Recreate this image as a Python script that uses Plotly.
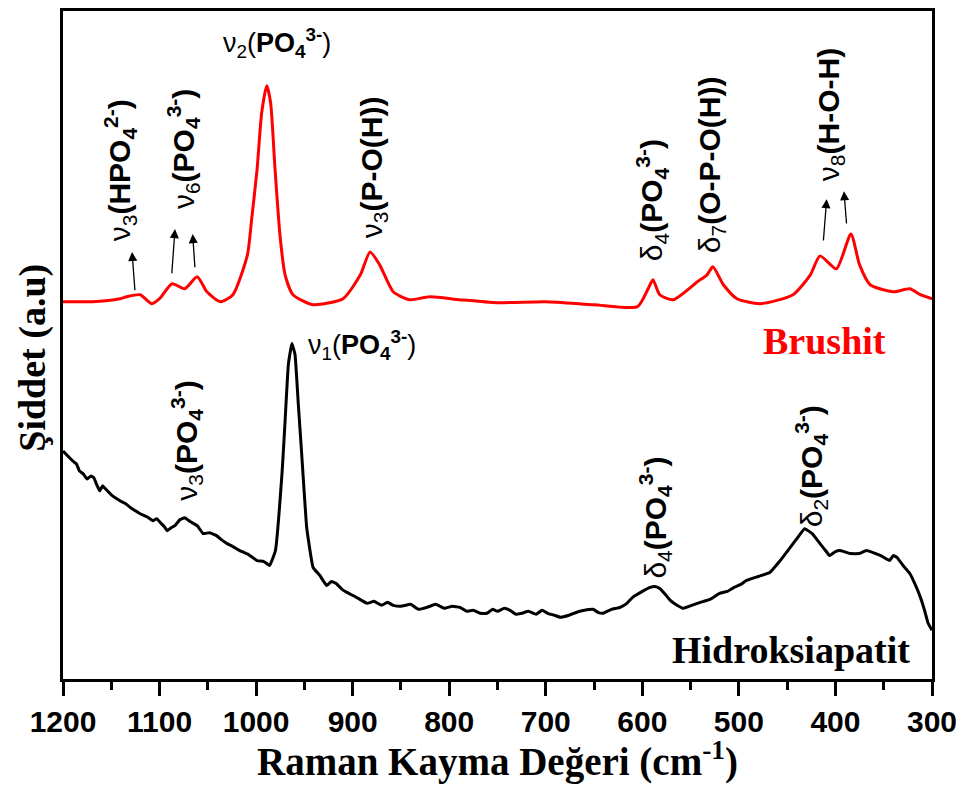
import plotly.graph_objects as go

# Raman spectra (wavenumber cm-1, intensity a.u.)
brushit_x = [1200, 1170, 1141, 1134, 1120, 1108, 1100, 1087, 1074, 1061, 1051, 1037, 1024,
             1009, 1004.6, 999, 994.2, 989, 985, 980.4, 975.3, 970, 961.8, 941, 910, 892,
             882, 872, 858, 841, 820, 789, 750, 700, 650, 605, 594, 589, 582, 568, 543, 533,
             527, 516, 502, 478, 444, 426, 416, 399, 384, 375, 364, 340, 323, 312, 300]
brushit_y = [379, 379, 382, 384, 386, 377, 382, 397, 392, 404, 389, 379, 386,
             426, 462, 512, 569, 596, 579, 512, 446, 406, 386, 376, 382, 406,
             429, 416, 389, 381, 384, 381, 378, 379, 376, 374, 392, 401, 386, 381, 399, 406,
             414, 396, 382, 377, 386, 406, 425, 412, 447, 416, 396, 389, 392, 386, 382]

hap_x = [1200, 1195, 1190, 1186, 1183, 1179, 1175, 1171, 1168, 1165, 1162, 1159, 1157,
         1150, 1141, 1135, 1130, 1125, 1120, 1113, 1107, 1103, 1099, 1095, 1092, 1088,
         1084, 1079, 1074, 1068, 1061, 1058, 1055, 1048, 1041, 1036, 1030, 1024, 1017,
         1008, 999, 992, 986, 980, 973, 970, 966.6, 963, 959.7, 956.3, 952.8, 947.6, 941,
         934, 927, 922, 917, 911, 906, 896, 885, 878, 870, 864, 858, 850, 840, 832, 823,
         814, 805, 797, 789, 782, 775, 768, 761, 755, 750, 743, 737, 731, 725, 718, 710,
         704, 698, 691, 685, 676, 668, 660, 651, 646, 641, 632, 623, 616, 610, 600, 592,
         587, 582, 577, 571, 564, 558, 549, 540, 530, 520, 512, 505, 498, 492, 480, 468,
         458, 447, 440, 432, 424, 416, 411, 406, 400, 395, 385, 375, 368, 361, 353, 344,
         340, 336, 330, 323, 317, 312, 308, 304, 300]
hap_y = [229, 224, 219, 216, 209, 206, 201, 204, 202, 195, 189, 194, 192,
         185, 179, 176, 172, 169, 166, 163, 159, 161, 157, 153, 149, 152,
         154, 160, 162, 158, 154, 150, 146, 147, 144, 140, 136, 133, 129,
         125, 119, 118, 114, 129, 209, 259, 316, 337, 326, 276, 226, 152, 112,
         104, 94, 98, 96, 90, 87, 82, 76, 78, 74, 77, 74, 73, 75, 70, 72,
         75, 71, 73, 72, 68, 69, 66, 66, 70, 68, 71, 69, 65, 66, 68, 65,
         69, 66, 64, 62, 64, 67, 69, 70, 67, 66, 70, 72, 76, 82, 88, 92,
         93, 91, 86, 79, 74, 71, 74, 77, 80, 86, 88, 92, 95, 99, 103, 107,
         118, 132, 141, 151, 146, 136, 130, 124, 128, 129, 126, 126, 129, 127, 124, 119,
         124, 122, 114, 106, 94, 82, 70, 56, 49]

# peak labels: text, x, y, rotated?
label_text = [
    "ν<sub>3</sub><b>(HPO<sub>4</sub><sup>2-</sup>)</b>",
    "ν<sub>6</sub><b>(PO<sub>4</sub><sup>3-</sup>)</b>",
    "ν<sub>2</sub>(<b>PO<sub>4</sub><sup>3-</sup></b>)",
    "ν<sub>3</sub><b>(P-O(H))</b>",
    "δ<sub>4</sub><b>(PO<sub>4</sub><sup>3-</sup>)</b>",
    "δ<sub>7</sub><b>(O-P-O(H))</b>",
    "ν<sub>8</sub><b>(H-O-H)</b>",
    "ν<sub>1</sub>(<b>PO<sub>4</sub><sup>3-</sup></b>)",
    "ν<sub>3</sub><b>(PO<sub>4</sub><sup>3-</sup>)</b>",
    "δ<sub>4</sub><b>(PO<sub>4</sub><sup>3-</sup>)</b>",
    "δ<sub>2</sub><b>(PO<sub>4</sub><sup>3-</sup>)</b>",
]
label_x = [1141, 1075, 978, 879, 590, 529, 405, 890, 1072, 587, 425]
label_y = [511, 532, 639, 514, 481, 517, 567, 336, 239, 162, 214]
label_vertical = [True, True, False, True, True, True, True, False, True, True, True]

# arrows: (tail x, tail y, head x, head y)
arrows = [
    (1125.4, 389, 1128.5, 429),
    (1087.4, 406, 1084.0, 452),
    (1063.3, 412, 1065.7, 447),
    (412.6, 439, 409.1, 482),
    (388.4, 456, 391.2, 490),
]

fig = go.Figure()
fig.add_trace(go.Scatter(x=brushit_x, y=brushit_y, mode="lines",
                         line=dict(color="#ff0000", width=3, shape="spline", smoothing=0.6),
                         showlegend=False))
fig.add_trace(go.Scatter(x=hap_x, y=hap_y, mode="lines",
                         line=dict(color="black", width=3, shape="spline", smoothing=0.3),
                         showlegend=False))

sans = "Liberation Sans, Arial, sans-serif"
serif = "Liberation Serif, Times New Roman, serif"

for txt, lx, ly, vert in zip(label_text, label_x, label_y, label_vertical):
    fig.add_annotation(x=lx, y=ly, text=txt, showarrow=False,
                       textangle=-90 if vert else 0,
                       xanchor="center", yanchor="middle",
                       font=dict(family=sans, size=30 if vert else 27, color="black"))

for tx, ty, hx, hy in arrows:
    fig.add_annotation(x=hx, y=hy, ax=tx, ay=ty, axref="x", ayref="y",
                       text="", showarrow=True, arrowhead=2, arrowsize=1.4,
                       arrowwidth=1.3, arrowcolor="black")

fig.add_annotation(x=411, y=340, text="<b>Brushit</b>", showarrow=False,
                   font=dict(family=serif, size=38, color="#ff0000"))
fig.add_annotation(x=446, y=29, text="<b>Hidroksiapatit</b>", showarrow=False,
                   font=dict(family=serif, size=38, color="black"))

# axis titles
fig.add_annotation(xref="paper", yref="paper", x=-0.0345, y=0.481,
                   text="<b>Şiddet (a.u)</b>", textangle=-90, showarrow=False,
                   xanchor="center", yanchor="middle",
                   font=dict(family=serif, size=38, color="black"))
fig.add_annotation(xref="x", yref="paper", x=749.5, y=-0.12,
                   text="<b>Raman Kayma Değeri (cm<sup>-1</sup>)</b>", showarrow=False,
                   xanchor="center", yanchor="middle",
                   font=dict(family=serif, size=39, color="black"))

# page body adds an 8px margin, so the figure is 8px smaller than the window
fig.update_layout(
    autosize=False,
    width=956,
    height=778,
    margin=dict(l=55, r=32, t=0, b=107),
    paper_bgcolor="white",
    plot_bgcolor="white",
    showlegend=False,
)
fig.update_xaxes(range=[1200, 300], tick0=300, dtick=100,
                 ticks="outside", ticklen=14, tickwidth=3, tickcolor="black",
                 showline=True, linewidth=3, linecolor="black", mirror=True,
                 showgrid=False, zeroline=False,
                 tickfont=dict(family=sans, size=30, color="black", weight="bold"),
                 minor=dict(dtick=50, ticks="outside", ticklen=8, tickwidth=3,
                            tickcolor="black", showgrid=False))
fig.update_yaxes(range=[0, 671], showticklabels=False, ticks="",
                 showline=True, linewidth=3, linecolor="black", mirror=True,
                 showgrid=False, zeroline=False)

fig.write_html("out.html")
